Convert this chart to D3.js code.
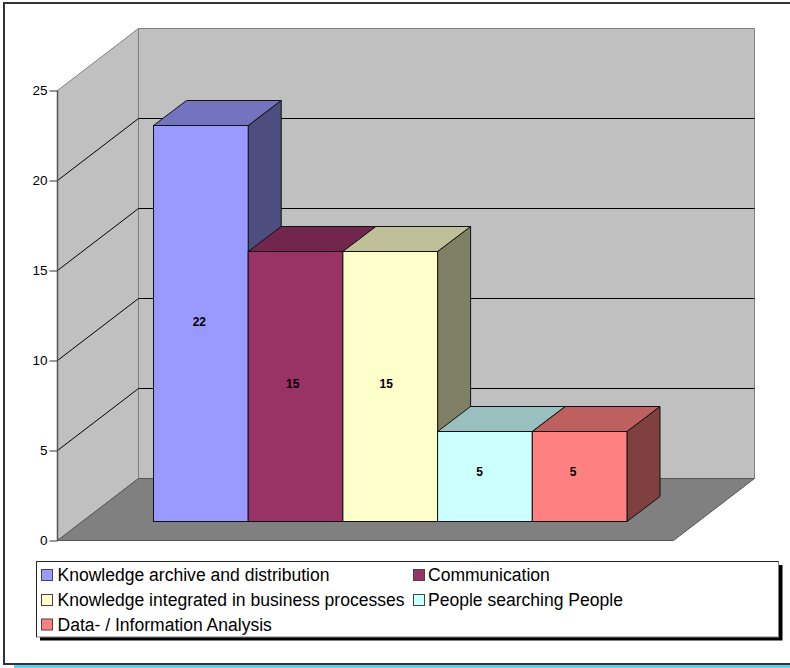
<!DOCTYPE html>
<html><head><meta charset="utf-8">
<script src="https://d3js.org/d3.v7.min.js"></script>
<style>html,body{margin:0;padding:0;background:#fff}svg{display:block}text{font-family:"Liberation Sans",Arial,sans-serif}</style>
</head><body><div id="c"></div>
<script>
const categories=["Knowledge archive and distribution","Communication","Knowledge integrated in business processes","People searching People","Data- / Information Analysis"];
const values=[22,15,15,5,5];
const colors=["#9999ff","#993366","#ffffcc","#ccffff","#ff8080"];
const topColors=["#7373bf","#73264d","#bfbf99","#99bfbf","#bf6060"];
const sideColors=["#4d4d80","#4d1a33","#808066","#668080","#804040"];
const ticks=[0,5,10,15,20,25];

const W=790,H=668;
const svg=d3.select("#c").append("svg").attr("width",W).attr("height",H);
// background + frame
svg.append("rect").attr("x",14).attr("y",664).attr("width",W-14).attr("height",4).attr("fill","#66ccee");
svg.append("rect").attr("x",4).attr("y",3).attr("width",W+10).attr("height",661).attr("fill","#fff").attr("stroke","#333").attr("stroke-width",2);

const y=d3.scaleLinear().domain([0,25]).range([540.5,90.5]);
const depth={dx:81,dy:-62};
const x0=57.5,x1=673.5;
const P=a=>a.map(p=>p.join(",")).join(" ");
const wallStroke="#808080";
svg.append("polygon").attr("points",P([[x0,y(0)],[x0,y(25)],[x0+depth.dx,y(25)+depth.dy],[x0+depth.dx,y(0)+depth.dy]])).attr("fill","#c0c0c0").attr("stroke",wallStroke).attr("stroke-width",1);
svg.append("polygon").attr("points",P([[x0+depth.dx,y(0)+depth.dy],[x0+depth.dx,y(25)+depth.dy],[x1+depth.dx,y(25)+depth.dy],[x1+depth.dx,y(0)+depth.dy]])).attr("fill","#c0c0c0").attr("stroke",wallStroke).attr("stroke-width",1);
svg.append("polygon").attr("points",P([[x0,y(0)],[x1,y(0)],[x1+depth.dx,y(0)+depth.dy],[x0+depth.dx,y(0)+depth.dy]])).attr("fill","#808080").attr("stroke","#555").attr("stroke-width",1);

// gridlines
const inner=ticks.filter(t=>t>0&&t<25);
svg.append("g").selectAll("path").data(inner).join("path")
 .attr("d",t=>`M${x0},${y(t)}L${x0+depth.dx},${y(t)+depth.dy}L${x1+depth.dx},${y(t)+depth.dy}`)
 .attr("fill","none").attr("stroke","#000").attr("stroke-width",1);
// axis
svg.append("path").attr("d",`M${x0},${y(0)}V${y(25)}`).attr("stroke","#555").attr("stroke-width",1.5).attr("fill","none");
const ax=svg.append("g").attr("transform",`translate(${x0},0)`).call(d3.axisLeft(y).tickValues(ticks).tickSize(8).tickPadding(2).tickFormat(d3.format("d")));
ax.select(".domain").remove();
ax.selectAll("line").attr("stroke","#333");
ax.selectAll("text").attr("font-size",13.5).attr("fill","#000");

// bars
const bx=d3.scaleBand().domain(categories).range([153.5,627]);
const base=521.5, barBase=y(0)-base, bd={dx:33,dy:-25};
const g=svg.append("g").selectAll("g").data(categories.map((c,i)=>({c,v:values[i],i}))).join("g");
const bTop=d=>y(d.v)-barBase;
g.append("polygon").attr("points",d=>{const r=bx(d.c)+bx.bandwidth();return P([[r,base],[r,bTop(d)],[r+bd.dx,bTop(d)+bd.dy],[r+bd.dx,base+bd.dy]]);})
 .attr("fill",d=>sideColors[d.i]).attr("stroke","#111");
g.append("polygon").attr("points",d=>{const l=bx(d.c),r=l+bx.bandwidth();return P([[l,bTop(d)],[r,bTop(d)],[r+bd.dx,bTop(d)+bd.dy],[l+bd.dx,bTop(d)+bd.dy]]);})
 .attr("fill",d=>topColors[d.i]).attr("stroke","#111");
g.append("rect").attr("x",d=>bx(d.c)).attr("y",bTop).attr("width",bx.bandwidth()).attr("height",d=>base-bTop(d))
 .attr("fill",d=>colors[d.i]).attr("stroke","#111");
g.append("text").attr("x",d=>bx(d.c)+bx.bandwidth()/2-1.5-1.25*d.i).attr("y",d=>(bTop(d)+base)/2+4.5-(5.7-0.165*d.v)).attr("text-anchor","middle")
 .attr("font-size",12).attr("font-weight","bold").attr("fill","#000").text(d=>d.v);

// legend
const lg=svg.append("g");
lg.append("rect").attr("x",40).attr("y",565).attr("width",742.5).attr("height",75.5).attr("fill","#000");
lg.append("rect").attr("x",36.5).attr("y",561.5).attr("width",742).attr("height",75.5).attr("fill","#fff").attr("stroke","#808080");
lg.append("path").attr("d","M36.5,637V561.5H778.5").attr("fill","none").attr("stroke","#222");
const swatchX=[41,413], textX=[57.5,428], ly=[575,600,624.5];
const items=categories.map((c,i)=>({c,i,col:i%2,row:Math.floor(i/2)}));
const it=lg.selectAll("g").data(items).join("g").attr("transform",d=>`translate(0,${ly[d.row]})`);
it.append("rect").attr("x",d=>swatchX[d.col]+.5).attr("y",-5.5).attr("width",11).attr("height",11).attr("fill",d=>colors[d.i]).attr("stroke","#444");
it.append("text").attr("x",d=>textX[d.col]).attr("y",6).attr("font-size",17.55).attr("fill","#000").text(d=>d.c);
</script></body></html>
